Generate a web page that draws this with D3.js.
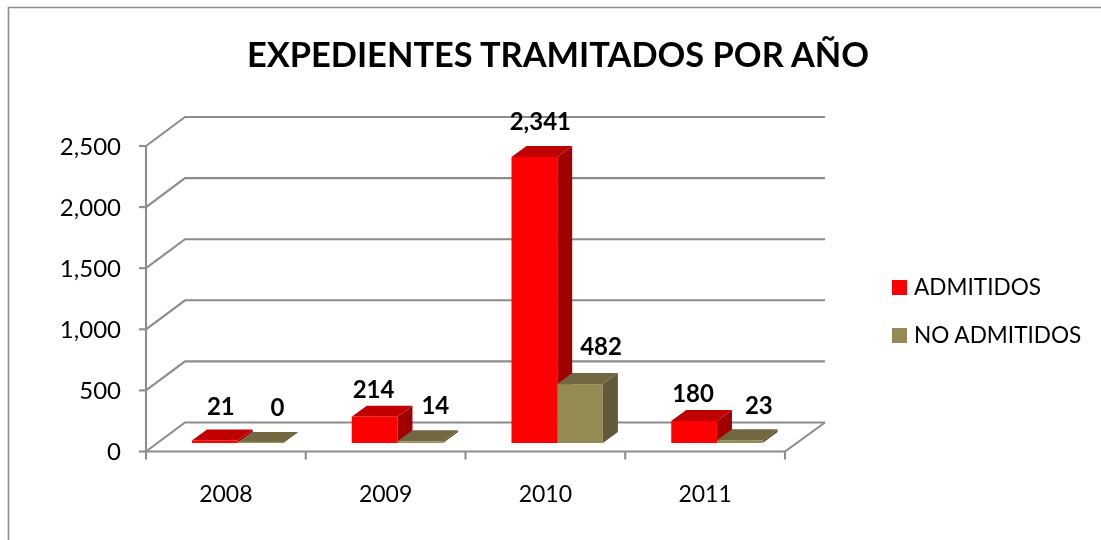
<!DOCTYPE html>
<html><head><meta charset="utf-8">
<script src="https://cdn.jsdelivr.net/npm/d3@7/dist/d3.min.js"></script>
<style>html,body{margin:0;padding:0;background:#fff}svg{display:block;filter:blur(0.35px)}text{font-family:Lato,"Open Sans",sans-serif;fill:#000}</style>
</head><body><svg id="c" width="1101" height="540"></svg>
<script>
const years=["2008","2009","2010","2011"];
const seriesNames=["ADMITIDOS","NO ADMITIDOS"];
const admitidos=[21,214,2341,180];
const noAdmitidos=[0,14,482,23];
const yTicks=[0,500,1000,1500,2000,2500];
const labelNudgeX=[[6,17],[-1,15],[6,21],[-1,19]];
const labelNudgeY=[[-34,-36],[-27,-36],[-35,-38],[-28,-35]];
const front=["#ff0000","#948a54"],top_=["#c00000","#716740"],side=["#a00000","#5f5a38"];

const svg=d3.select("#c");
const x=d3.scaleBand().domain(years).range([146,785]);
const y=d3.scaleLinear().domain([0,2500]).range([451.5,146]);
const wx=39,wy=-29,bx=15,by=-11,lift=-8.5,barW=45.7;
const grey="#8c8c8c";

svg.append("path").attr("d","M8.5,540V7.5H1101").attr("fill","none").attr("stroke","#8f8f8f").attr("stroke-width",1.6);
svg.append("text").attr("x",558).attr("y",67).attr("text-anchor","middle").attr("font-size",34.4).attr("font-weight",700).text("EXPEDIENTES TRAMITADOS POR AÑO");

const line=d3.line();
const g=svg.append("g").attr("fill","none").attr("stroke",grey).attr("stroke-width",2.1);
yTicks.forEach(t=>{
  const p=y(t);
  g.append("path").attr("d",line([[146,p],[146+wx,p+wy],[785+wx+1,p+wy]]));
  g.append("path").attr("d",line([[139,p],[146,p]]));
});
g.append("path").attr("d",line([[146,y(0)],[146,y(2500)]]));
g.append("path").attr("d",line([[146,y(0)],[785,y(0)],[785+wx+1,y(0)+wy]]));
x.domain().concat("end").forEach((d,i)=>{
  const px=146+i*x.step();
  g.append("path").attr("d",line([[px,y(0)],[px,y(0)+8]]));
});

svg.selectAll(".yl").data(yTicks).join("text").attr("x",121).attr("y",d=>y(d)+8.5)
  .attr("text-anchor","end").attr("font-size",24).text(d3.format(","));
svg.selectAll(".xl").data(years).join("text").attr("x",d=>x(d)+x.bandwidth()/2).attr("y",502)
  .attr("text-anchor","middle").attr("font-size",23).text(d=>d);

const rows=years.map((yr,i)=>[admitidos[i],noAdmitidos[i]].map((v,s)=>({yr,i,s,v})));
const base=y(0)+lift;
const h=v=>y(0)-y(v);
const bar=d=>{const x0=x(d.yr)+46+d.s*barW;return {x0,x1:x0+barW,t:base-h(d.v)};};
const sideTop=(d)=>{
  const {x0,x1,t}=bar(d);
  svg.append("path").attr("fill",side[d.s]).attr("d",line([[x1,t],[x1+bx,t+by],[x1+bx,base+by],[x1,base]])+"Z");
  svg.append("path").attr("fill",top_[d.s]).attr("d",line([[x0,t],[x0+bx,t+by],[x1+bx,t+by],[x1,t]])+"Z");
};
const face=(d)=>{
  const {x0,t}=bar(d);
  svg.append("rect").attr("x",x0).attr("y",Math.min(t,base-1.5)).attr("width",barW).attr("height",Math.max(h(d.v),1.5)).attr("fill",front[d.s]);
};
rows.forEach(r=>{ sideTop(r[0]); sideTop(r[1]); face(r[1]); face(r[0]); });
rows.flat().forEach(d=>{
  const {x0,t}=bar(d);
  svg.append("text").attr("x",x0+barW/2+labelNudgeX[d.i][d.s]).attr("y",t+labelNudgeY[d.i][d.s]+8.5)
    .attr("text-anchor","middle").attr("font-size",24).attr("font-weight",700).text(d3.format(",")(d.v));
});

const ly=d3.scalePoint().domain(seriesNames).range([287.5,335.5]);
seriesNames.forEach((n,i)=>{
  svg.append("rect").attr("x",892).attr("y",ly(n)-7.5).attr("width",15).attr("height",15).attr("fill",front[i]);
  svg.append("text").attr("x",914).attr("y",ly(n)+7.5).attr("font-size",22.6).text(n);
});
</script></body></html>
